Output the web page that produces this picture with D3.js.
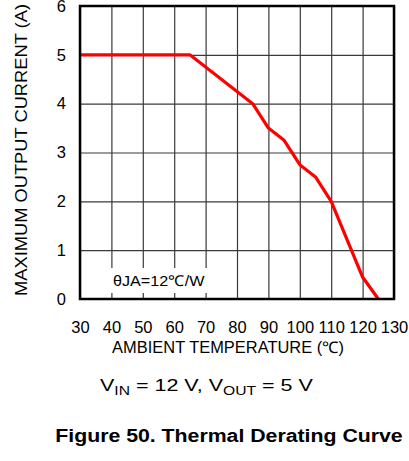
<!DOCTYPE html>
<html>
<head>
<meta charset="utf-8">
<script src="https://cdn.jsdelivr.net/npm/d3@7"></script>
<style>
  body { margin: 0; background: #fff; }
  svg { display: block; font-family: "Liberation Sans", Arial, sans-serif; }
</style>
</head>
<body>
<script>
'use strict';

// derating curve
const temps = [30, 65, 85, 90, 95, 100, 105, 110, 120, 125];
const current = [5, 5, 4, 3.5, 3.25, 2.75, 2.5, 2, 0.45, 0];

const xTicks = [30, 40, 50, 60, 70, 80, 90, 100, 110, 120, 130];
const yTicks = [0, 1, 2, 3, 4, 5, 6];

const m = {left: 80, top: 6, right: 394, bottom: 299};
const FONT = '"Liberation Sans", Arial, sans-serif';

let svg = d3.select('body').append('svg')
  .attr('width', 409)
  .attr('height', 461);

let xScale = d3.scaleLinear().domain([30, 130]).range([m.left, m.right]);
let yScale = d3.scaleLinear().domain([0, 6]).range([m.bottom, m.top]);

// stretch a text horizontally to a given width, around its x anchor
function stretch(sel, width, cx) {
  let w = sel.node().getBBox().width;
  let s = width / w;
  sel.attr('transform', 'translate(' + cx + ',0) scale(' + s + ',1) translate(' + (-cx) + ',0)');
}

// grid lines
svg.append('g')
  .attr('transform', 'translate(0,' + m.bottom + ')')
  .call(d3.axisBottom(xScale).tickValues(xTicks).tickSize(-(m.bottom - m.top)).tickFormat(''))
  .call(g => g.select('.domain').remove())
  .call(g => g.selectAll('line').attr('stroke', '#3a3a3a').attr('stroke-width', 1.2));

svg.append('g')
  .attr('transform', 'translate(' + m.left + ',0)')
  .call(d3.axisLeft(yScale).tickValues(yTicks).tickSize(-(m.right - m.left)).tickFormat(''))
  .call(g => g.select('.domain').remove())
  .call(g => g.selectAll('line').attr('stroke', '#3a3a3a').attr('stroke-width', 1.2));

// white label box over the grid
svg.append('rect')
  .attr('x', 104).attr('y', 268)
  .attr('width', 106).attr('height', 25)
  .attr('fill', '#fff');

let note = svg.append('text')
  .attr('x', 113).attr('y', 286)
  .style('font-size', '15px')
  .text('θJA=12℃/W');
stretch(note, 92, 113);

// curve
const line = d3.line()
  .x((d, i) => xScale(temps[i]))
  .y(d => yScale(d));

svg.append('path')
  .datum(current)
  .attr('d', line)
  .attr('fill', 'none')
  .attr('stroke', '#ff0000')
  .attr('stroke-width', 3.2)
  .attr('stroke-linejoin', 'round');

// frame
svg.append('rect')
  .attr('x', m.left).attr('y', m.top)
  .attr('width', m.right - m.left).attr('height', m.bottom - m.top)
  .attr('fill', 'none')
  .attr('stroke', '#000')
  .attr('stroke-width', 2.5);

// tick labels
svg.append('g')
  .attr('transform', 'translate(0,' + m.bottom + ')')
  .call(d3.axisBottom(xScale).tickValues(xTicks).tickSize(0).tickPadding(22))
  .call(g => g.select('.domain').remove())
  .call(g => g.selectAll('text').style('font-size', '16.5px').attr('fill', '#000')
    .style('font-family', FONT));

svg.append('g')
  .attr('transform', 'translate(' + m.left + ',0)')
  .call(d3.axisLeft(yScale).tickValues(yTicks).tickSize(0).tickPadding(14).tickFormat(d3.format('d')))
  .call(g => g.select('.domain').remove())
  .call(g => g.selectAll('text').style('font-size', '16.5px').attr('fill', '#000')
    .style('font-family', FONT));

// axis titles
let xTitle = svg.append('text')
  .attr('x', 228).attr('y', 353)
  .attr('text-anchor', 'middle')
  .style('font-size', '16px')
  .text('AMBIENT TEMPERATURE (℃)');
stretch(xTitle, 232, 228);

svg.append('text')
  .attr('transform', 'translate(27,150)rotate(-90)')
  .attr('text-anchor', 'middle')
  .attr('textLength', 292)
  .attr('lengthAdjust', 'spacingAndGlyphs')
  .style('font-size', '16px')
  .text('MAXIMUM OUTPUT CURRENT (A)');

// conditions
let cond = svg.append('text')
  .attr('x', 100).attr('y', 391)
  .style('font-size', '16.5px');
cond.append('tspan').text('V');
cond.append('tspan').attr('dy', 4).style('font-size', '12px').text('IN');
cond.append('tspan').attr('dy', -4).text(' = 12 V, V');
cond.append('tspan').attr('dy', 4).style('font-size', '12px').text('OUT');
cond.append('tspan').attr('dy', -4).text(' = 5 V');
stretch(cond, 213, 100);

let fig = svg.append('text')
  .attr('x', 229).attr('y', 442)
  .attr('text-anchor', 'middle')
  .style('font-size', '17.5px')
  .style('font-weight', 'bold')
  .text('Figure 50. Thermal Derating Curve');
stretch(fig, 348, 229);
</script>
</body>
</html>
